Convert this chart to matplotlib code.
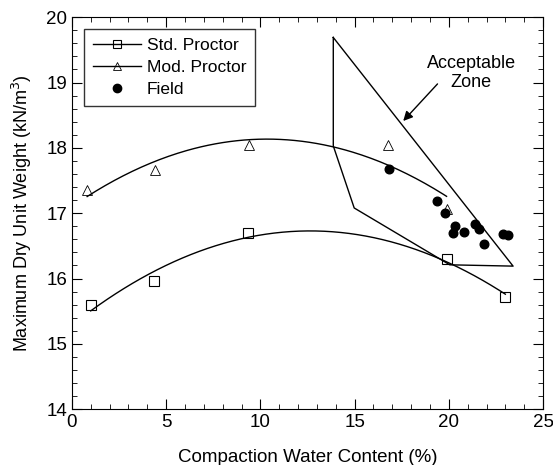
"""Max dry unit weight vs compaction water content, std/mod Proctor + field."""
import numpy as np
import matplotlib; matplotlib.use("Agg"); import matplotlib.pyplot as plt
from matplotlib.ticker import MultipleLocator

plt.rcParams["font.family"]=["Liberation Sans","DejaVu Sans"]

std_w=[1.0,4.37,9.36,19.91,23.0]; std_g=[15.59,15.96,16.69,16.30,15.72]
mod_w=[0.81,4.4,9.39,16.75,19.88]; mod_g=[17.36,17.66,18.04,18.04,17.07]
fld_w=[16.83,19.38,19.82,20.32,20.2,20.81,21.38,21.59,21.87,22.88,23.15]
fld_g=[17.67,17.19,17.01,16.80,16.69,16.71,16.84,16.76,16.53,16.68,16.66]
zone_w=[13.87,13.87,14.98,20.05,23.41,13.87]
zone_g=[19.69,18.03,17.08,16.21,16.19,19.69]

fig=plt.figure(figsize=(5.53,4.65),dpi=100)
ax=fig.add_axes([0.130,0.120,0.852,0.843])

# quadratic trend lines through the Proctor points
xs=np.linspace(std_w[0],std_w[-1],200)
ax.plot(xs,np.polyval(np.polyfit(std_w,std_g,2),xs),color="k",lw=1)
xm=np.linspace(mod_w[0],mod_w[-1],200)
ax.plot(xm,np.polyval(np.polyfit(mod_w,mod_g,2),xm),color="k",lw=1)
ax.plot(std_w,std_g,"s",ms=7,mfc="none",mec="k",mew=0.8)
ax.plot(mod_w,mod_g,"^",ms=6.5,mfc="none",mec="k",mew=0.6)
ax.plot(fld_w,fld_g,"o",ms=6.2,color="k")
ax.plot(zone_w,zone_g,color="k",lw=1)

# legend built from line+marker proxies
ax.plot([],[],"-s",color="k",lw=1,ms=6,mfc="none",mew=0.8,label="Std. Proctor")
ax.plot([],[],"-^",color="k",lw=1,ms=6,mfc="none",mew=0.6,label="Mod. Proctor")
ax.plot([],[],"o",color="k",ms=6,label="Field")
h,l=ax.get_legend_handles_labels()
leg=ax.legend(h[-3:],l[-3:],loc="upper left",fontsize=12.5,frameon=True,fancybox=False,
              edgecolor="k",handlelength=2.8,borderaxespad=0.7,labelspacing=0.4,
              handletextpad=0.3,borderpad=0.5)
leg.get_frame().set_linewidth(1)

ax.annotate("",xy=(17.48,18.38),xytext=(19.5,19.01),
            arrowprops=dict(arrowstyle="-|>",color="k",lw=1,mutation_scale=14))
ax.text(21.2,19.15,"Acceptable\nZone",ha="center",va="center",fontsize=13,linespacing=1.15)

ax.set_xlim(0,25); ax.set_ylim(14,20)
ax.xaxis.set_major_locator(MultipleLocator(5)); ax.xaxis.set_minor_locator(MultipleLocator(1))
ax.yaxis.set_major_locator(MultipleLocator(1)); ax.yaxis.set_minor_locator(MultipleLocator(0.2))
ax.tick_params(which="both",direction="in",top=True,right=True,labelsize=13.5)
ax.tick_params(which="major",length=7); ax.tick_params(which="minor",length=3.5)
ax.set_xlabel("Compaction Water Content (%)",fontsize=13.5,labelpad=13)
ax.set_ylabel("Maximum Dry Unit Weight (kN/m$^3$)",fontsize=13,labelpad=9)
fig.savefig("out.png",dpi=100)
